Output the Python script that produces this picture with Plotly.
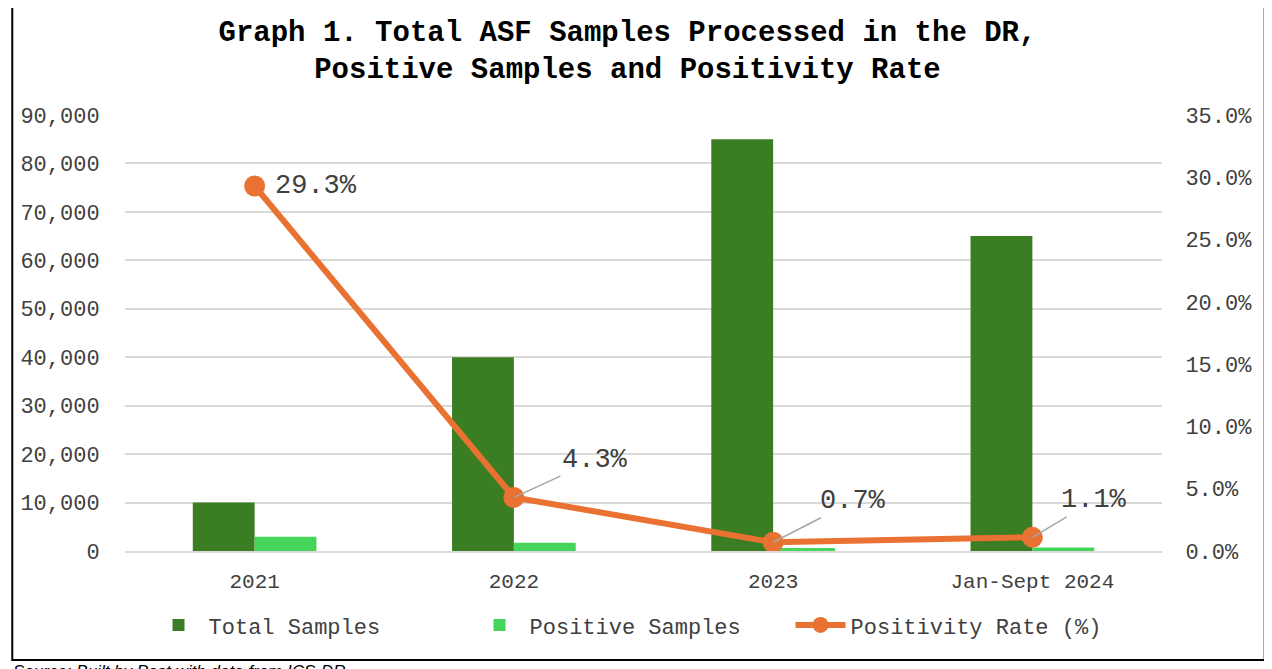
import plotly.graph_objects as go

categories = ["2021", "2022", "2023", "Jan-Sept 2024"]
total_samples = [10000, 40000, 85000, 65000]
positive_samples = [2930, 1720, 595, 715]
positivity_rate = [29.3, 4.3, 0.7, 1.1]

title_text = "Graph 1. Total ASF Samples Processed in the DR,<br>Positive Samples and Positivity Rate"
source_text = "Source: Built by Post with data from ICS-DR"

FONT = "Liberation Mono, Courier New, monospace"
TXT = "#404040"
DARK_GREEN = "#3B7D23"
LIGHT_GREEN = "#47D45A"
ORANGE = "#E97132"
GRID = "#D9D9D9"

fig = go.Figure()
fig.add_trace(go.Bar(x=categories, y=total_samples, name="Total Samples",
                     marker=dict(color=DARK_GREEN, line=dict(width=0))))
fig.add_trace(go.Bar(x=categories, y=positive_samples, name="Positive Samples",
                     marker=dict(color=LIGHT_GREEN, line=dict(width=0))))
fig.add_trace(go.Scatter(x=categories, y=positivity_rate, name="Positivity Rate (%)",
                         yaxis="y2", mode="lines+markers",
                         line=dict(color=ORANGE, width=6),
                         marker=dict(color=ORANGE, size=21)))

# data labels (x given as category index so numeric-looking names are not misread)
offsets = [None, (81, -37), (80, -41), (62, -37)]
for i, v in enumerate(positivity_rate):
    label = f"{v:.1f}%"
    if offsets[i] is None:
        fig.add_annotation(x=i, y=v, yref="y2", text=label, showarrow=False,
                           xanchor="left", xshift=18,
                           font=dict(family=FONT, size=27, color=TXT))
    else:
        ax, ay = offsets[i]
        fig.add_annotation(x=i, y=v, yref="y2", text=label, showarrow=True,
                           arrowhead=0, arrowwidth=1.5, arrowcolor="#A6A6A6",
                           ax=ax, ay=ay, standoff=0,
                           font=dict(family=FONT, size=27, color=TXT))

# source line
fig.add_annotation(xref="paper", yref="paper", x=-0.1096, y=-0.277,
                   xanchor="left", yanchor="middle", showarrow=False,
                   text=f"<i>{source_text}</i>",
                   font=dict(family="Liberation Sans, Arial", size=17, color="black"))

# outer frame
fig.add_shape(type="rect", xref="paper", yref="paper",
              x0=-0.1087, x1=1.099, y0=-0.25, y1=1.30,
              line=dict(color="black", width=2), fillcolor="rgba(0,0,0,0)")

fig.update_layout(
    width=1272, height=669,
    margin=dict(l=114, r=118, t=107, b=126),
    paper_bgcolor="white", plot_bgcolor="white",
    title=dict(text=title_text, x=0.487, xref="container", xanchor="center",
               y=0.951, yref="container", yanchor="middle",
               font=dict(family=FONT, size=29, color="black", weight="bold")),
    barmode="group", bargap=0.523, bargroupgap=0,
    font=dict(family=FONT, size=22, color=TXT),
    legend=dict(orientation="h", x=0.487, xanchor="center", y=-0.17, yanchor="middle",
                font=dict(family=FONT, size=22, color=TXT), itemwidth=50,
                entrywidth=256, entrywidthmode="pixels",
                traceorder="normal"),
    xaxis=dict(type="category", range=[-0.5, len(categories) - 0.5],
               showline=True, linecolor=GRID, linewidth=2,
               ticks="outside", ticklen=10, tickcolor="rgba(0,0,0,0)",
               tickfont=dict(family=FONT, size=21, color=TXT)),
    yaxis=dict(range=[0, 90000], dtick=10000, tickformat=",d",
               showgrid=True, gridcolor=GRID, gridwidth=2, zeroline=False,
               ticks="outside", ticklen=20, tickcolor="rgba(0,0,0,0)",
               tickfont=dict(family=FONT, size=22, color=TXT)),
    yaxis2=dict(range=[0, 35], dtick=5, tickformat=".1f", ticksuffix="%",
                overlaying="y", side="right", showgrid=False, zeroline=False,
                ticks="outside", ticklen=18, tickcolor="rgba(0,0,0,0)",
                tickfont=dict(family=FONT, size=22, color=TXT)),
)

fig.write_html("out.html")
